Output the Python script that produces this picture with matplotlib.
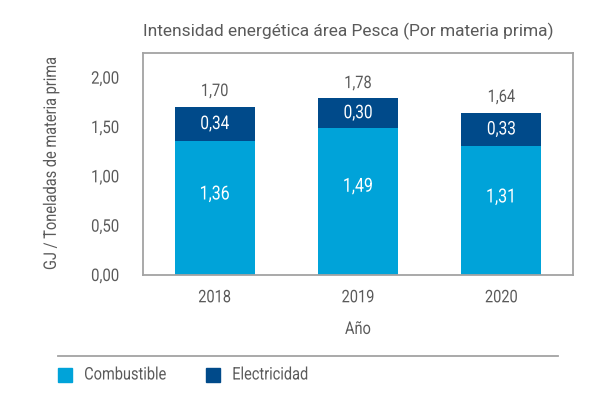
import numpy as np
import matplotlib
matplotlib.use("Agg")
from matplotlib import pyplot as plt
from matplotlib.patches import Rectangle
from matplotlib.patheffects import AbstractPathEffect
from matplotlib.transforms import Affine2D

plt.rcParams['font.family'] = ['Roboto', 'DejaVu Sans']

years = ['2018', '2019', '2020']
combustible = [1.36, 1.49, 1.31]
electricidad = [0.34, 0.30, 0.33]
totales = [1.70, 1.78, 1.64]
series_names = ['Combustible', 'Electricidad']

c_light = '#00a3d9'
c_dark = '#004a8a'
c_text = '#5a5a5a'
c_line = '#a3a3a3'


class Condensed(AbstractPathEffect):
    """squeeze text horizontally (no condensed font installed)"""
    def __init__(self, sx=0.85, frac=0.5):
        super().__init__()
        self.sx = sx
        self.frac = frac

    def draw_path(self, renderer, gc, tpath, affine, rgbFace=None):
        ext = tpath.get_extents()
        shift = (1 - self.sx) * (ext.x0 + ext.width * self.frac)
        t = Affine2D().scale(self.sx, 1).translate(shift, 0) + affine
        renderer.draw_path(gc, tpath, t, rgbFace)


def fmt(v):
    return f'{v:.2f}'.replace('.', ',')


W, H = 604, 396
fig = plt.figure(figsize=(6.04, 3.96), dpi=100)
ax = fig.add_axes([143 / W, 1 - 275 / H, 430 / W, 222 / H])

x = np.arange(len(years))
w = 0.56
ax.bar(x, combustible, w, color=c_light)
ax.bar(x, electricidad, w, bottom=combustible, color=c_dark)

for i in range(len(years)):
    ax.text(x[i], combustible[i] * 0.6, fmt(combustible[i]), ha='center', va='center',
            color='white', fontsize=14, path_effects=[Condensed(0.82, 0.5)])
    ax.text(x[i], combustible[i] + electricidad[i] / 2, fmt(electricidad[i]),
            ha='center', va='center', color='white', fontsize=13.5,
            path_effects=[Condensed(0.82, 0.5)])
    ax.text(x[i], totales[i] + 0.16, fmt(totales[i]), ha='center', va='center',
            color=c_text, fontsize=12.5, path_effects=[Condensed(0.84, 0.5)])

ax.set_xlim(-0.5, 2.5)
ax.set_ylim(0, 2.25)
yt = [0, 0.5, 1.0, 1.5, 2.0]
ax.set_yticks(yt)
ax.set_yticklabels([fmt(v) for v in yt])
ax.set_xticks(x)
ax.set_xticklabels(years)
ax.tick_params(length=0, labelsize=12.5, colors=c_text)
ax.tick_params(axis='y', pad=17)
ax.tick_params(axis='x', pad=11)
for lab in ax.get_yticklabels():
    lab.set_path_effects([Condensed(0.86, 1.0)])
for lab in ax.get_xticklabels():
    lab.set_path_effects([Condensed(0.84, 0.5)])
for s in ax.spines.values():
    s.set_color(c_line)
    s.set_linewidth(1.3)

ax.set_xlabel('Año', fontsize=12.5, color=c_text, labelpad=12)
ax.set_ylabel('GJ / Toneladas de materia prima', fontsize=12.5, color=c_text, labelpad=20)
ax.xaxis.label.set_path_effects([Condensed(0.84, 0.5)])
ax.yaxis.label.set_path_effects([Condensed(0.84, 0.5)])
ax.set_title('Intensidad energética área Pesca (Por materia prima)', fontsize=12.5,
             color=c_text, loc='left', pad=12)

# squeeze the title so it ends at ~x=519px like the reference
fig.canvas.draw()
tw = ax.title.get_window_extent().width
ax.title.set_path_effects([Condensed(376 / tw, 0.0)])

# separator line and legend at the bottom
fig.add_artist(plt.Line2D([58 / W, 558 / W], [1 - 356 / H] * 2,
                          color=c_line, linewidth=1.3))
leg_x = [58, 206]
for name, col, lx in zip(series_names, [c_light, c_dark], leg_x):
    fig.add_artist(Rectangle((lx / W, 1 - 382 / H), 14 / W, 14 / H,
                             transform=fig.transFigure, color=col))
    fig.text((lx + 26) / W, 1 - 375 / H, name, ha='left', va='center',
             fontsize=12.5, color=c_text, path_effects=[Condensed(0.84, 0.0)])

fig.savefig('out.png', dpi=100)
